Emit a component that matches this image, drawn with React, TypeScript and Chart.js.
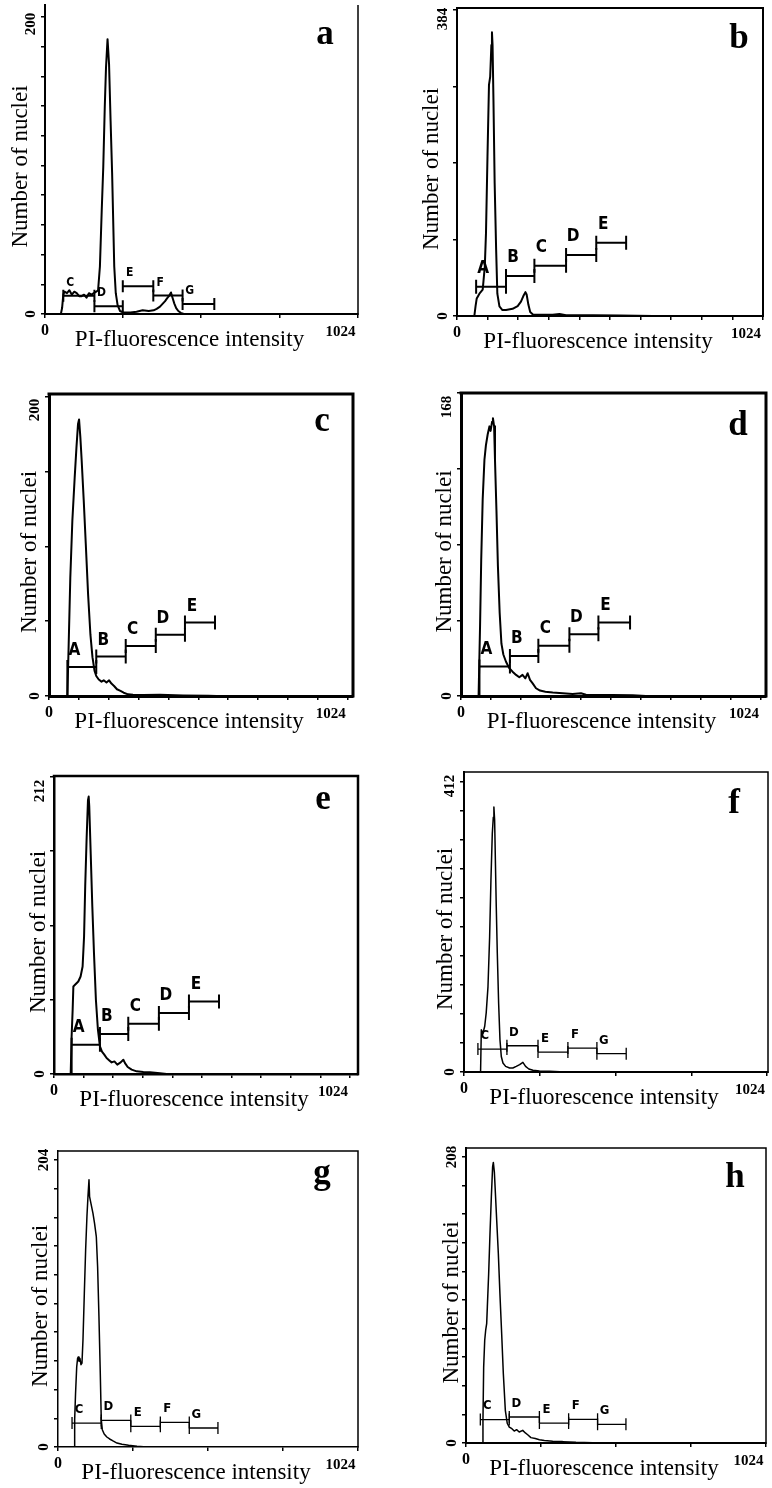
import React, { useEffect, useRef } from "react";
import { Chart, registerables } from "chart.js";
Chart.register(...registerables);

// ---------- texts & tick labels ----------
const X_TITLE = "PI-fluorescence intensity";
const Y_TITLE = "Number of nuclei";
const X_TICK_LABELS = ["0", "1024"];
const Y_MIN_LABEL = "0";
const X_FULL_SCALE = 1024;

const panelLetters = ["a", "b", "c", "d", "e", "f", "g", "h"];
const yTopValues = [200, 384, 200, 168, 212, 412, 204, 208];
const yTopLabels = ["200", "384", "200", "168", "212", "412", "204", "208"];
const yDivisions = [10, 4, 4, 4, 4, 10, 10, 10];
const xDivisions = [4, 10, 10, 10, 10, 4, 4, 4];

// ---------- histogram data (PI intensity channel, number of nuclei) ----------
const aIntensity = [52, 56, 60, 64, 72, 80, 88, 96, 104, 112, 120, 128, 136, 144, 152, 160, 168, 174, 180, 186, 191, 196, 200, 205, 210, 215, 220, 227, 232, 238, 246, 257, 280, 300, 320, 340, 356, 366, 377, 386, 393, 400, 406, 413, 418, 424, 430, 437, 445, 455];
const aCount = [0, 4, 13, 15, 14, 16, 13, 15, 14, 12, 12, 13, 11, 14, 13, 14, 15, 16, 32, 70, 99, 140, 166, 185, 168, 130, 95, 32, 14, 6, 2, 1, 1, 1.5, 2.5, 2, 2.5, 3.5, 5, 7, 8.5, 10.5, 12, 14.5, 11, 7, 4, 2, 0.8, 0];

const bIntensity = [58, 62, 66, 75, 86, 93, 97, 102, 107, 111, 115, 117, 119, 122, 126, 131, 135, 142, 152, 164, 186, 203, 214, 222, 229, 233, 239, 245, 254, 275, 320, 343, 365, 455, 544, 656];
const bCount = [0, 12, 22, 28, 33, 62, 104, 200, 290, 300, 340, 356, 340, 271, 167, 83, 28, 12, 7.5, 7.5, 9, 12.5, 18, 25, 30, 27, 14, 5, 2, 1.5, 1.5, 2.5, 1, 1, 0.5, 0];

const cIntensity = [63, 67.5, 73, 80, 88, 94, 99.5, 103, 107.5, 112, 119, 126, 134, 142, 149, 156, 162, 170.5, 180, 187.6, 197, 206, 214, 223, 233, 245, 256, 271, 288, 323, 380, 460, 546, 574];
const cCount = [0, 35, 79, 117, 146, 166, 182, 185, 173, 157.5, 131, 102, 68, 41, 26, 17, 13.4, 11, 9.6, 10.5, 9, 10.5, 8.3, 6.7, 4.5, 3.4, 2.2, 1.1, 0.9, 0.7, 0.9, 0.4, 0.2, 0];

const dIntensity = [60, 65, 69, 74, 80, 85, 91, 97, 101, 106, 109, 113, 116, 121, 126, 132, 138, 144.5, 153.6, 165, 176, 188, 199, 210, 219.6, 227.5, 235.5, 244.6, 256, 269.6, 288, 313, 347, 381, 409.6, 426.6, 517.6, 586, 631];
const dCount = [0, 38.5, 75.5, 109, 131, 139, 145, 149.5, 147, 152, 154, 149.5, 131, 103, 72, 46, 29, 23, 19, 15.4, 13.5, 11.7, 10.4, 11.7, 9.8, 12.6, 8.9, 7, 4.3, 3, 2.4, 1.9, 1.5, 1.1, 1.5, 0.7, 0.6, 0.4, 0];

const eIntensity = [57.7, 61, 64.6, 67, 72.7, 84, 92, 99, 104, 108, 113, 117.6, 120, 122, 127, 132.6, 138.4, 145, 152, 159, 166, 174, 182, 191.5, 199.5, 209, 219, 230.7, 240, 245.7, 255, 268.7, 286, 309, 332, 366.8, 390];
const eCount = [0, 27, 46, 62.5, 63.7, 66, 69.6, 76.7, 98, 134, 169, 195.5, 198, 191, 157.5, 119.5, 86, 53, 31.6, 19.7, 16, 13.8, 11.4, 9.7, 8.3, 9, 6.7, 8.3, 10.2, 7.8, 5, 3.1, 1.9, 1.4, 1.2, 0.5, 0];

const fIntensity = [56, 58.5, 64, 70, 75, 81, 86.6, 91, 95.6, 99, 101, 103.5, 106, 109, 112.5, 117, 121.5, 126, 131.6, 140.6, 154, 165, 176.6, 188, 199, 208, 219, 233, 255, 289, 323, 345];
const fCount = [0, 60, 55, 65, 84, 121, 192, 272.5, 338.7, 362, 376.5, 357.6, 301, 235, 168.6, 97.8, 45.8, 22, 12.8, 8, 5.7, 5.7, 8, 10.4, 13.7, 8, 4.3, 2.4, 1.4, 0.9, 0.5, 0];

const gIntensity = [55.8, 57, 60, 64, 67, 69.5, 71.8, 75, 78.6, 82, 85.4, 90, 94.5, 99, 102.5, 106, 108, 112.8, 119.6, 125, 131, 135.5, 140, 144.6, 148, 151.5, 158, 167, 176.5, 188, 201.6, 218.7, 241.5, 270, 304];
const gCount = [0, 19.4, 38, 57, 63, 64, 61, 63, 58.5, 59.6, 76, 109, 140, 164, 178, 190, 178, 173, 166, 159, 149.6, 128, 93, 52.5, 19.4, 12.3, 9.2, 7.1, 5.7, 4.3, 2.8, 1.9, 1.2, 0.5, 0];

const hIntensity = [57, 58, 60.4, 64, 67.3, 70.7, 73, 77.5, 82, 86.7, 91, 93.5, 97, 100, 105, 110.6, 116, 122, 127.7, 134.5, 141, 148, 157, 165, 173, 182, 194, 203, 211, 222, 237, 251, 268, 296.5, 330.7, 376, 433, 524.5];
const hCount = [0, 16.5, 55, 74.7, 82, 86.8, 99, 123, 152, 179, 200.7, 204, 197, 184, 162, 137.7, 108.6, 79.5, 50.4, 23.8, 14.5, 11.6, 10.4, 8.7, 9.7, 8, 9.2, 7.3, 6, 3.9, 3.2, 2.4, 1.9, 1.2, 1, 0.5, 0.2, 0];

// ---------- gates (marker regions) ----------
const gateNamesAE = ["A", "B", "C", "D", "E"];
const gateNamesCG = ["C", "D", "E", "F", "G"];

const aGateEdges = [60, 162, 255, 355, 451, 555];
const aGateLevels = [12.3, 5.2, 18.6, 12.5, 6.7];
const bGateEdges = [64, 164, 259, 365, 466, 566];
const bGateLevels = [36.8, 50.2, 63.2, 76.6, 92];
const cGateEdges = [63, 162, 263, 366, 466, 569];
const cGateLevels = [19.4, 26.4, 33.5, 40.9, 49.2];
const dGateEdges = [63, 167, 264, 370, 469, 577];
const dGateLevels = [16.3, 22.2, 27.9, 34.2, 40.7];
const eGateEdges = [61, 159, 257, 363, 467, 571];
const eGateLevels = [20.9, 28.5, 35.9, 43.5, 51.8];
const fGateEdges = [47, 145, 250, 351, 449, 548];
const fGateLevels = [32.6, 37.3, 28.3, 34, 26];
const gGateEdges = [48, 148, 249, 350, 449, 547];
const gGateLevels = [17, 18.9, 14.7, 17.5, 13.5];
const hGateEdges = [49, 148, 251, 351, 450, 547];
const hGateLevels = [17, 18.9, 14.5, 17.2, 13.6];

const intensities = [aIntensity, bIntensity, cIntensity, dIntensity, eIntensity, fIntensity, gIntensity, hIntensity];
const counts = [aCount, bCount, cCount, dCount, eCount, fCount, gCount, hCount];
const gateEdges = [aGateEdges, bGateEdges, cGateEdges, dGateEdges, eGateEdges, fGateEdges, gGateEdges, hGateEdges];
const gateLevels = [aGateLevels, bGateLevels, cGateLevels, dGateLevels, eGateLevels, fGateLevels, gGateLevels, hGateLevels];
const gateNames = [gateNamesCG, gateNamesAE, gateNamesAE, gateNamesAE, gateNamesAE, gateNamesCG, gateNamesCG, gateNamesCG];

// ---------- layout & style (page pixels) ----------
type Lay = {
  L: number; T: number; R: number; B: number; xMax: number; yMax: number;
  axisW: number; frameW: number; top: boolean; curveW: number; gateW: number;
  gateTick: number; gateFont: number; gateDy: number; gateToBase: boolean;
  letterDx: number; letterDy: number; yTitleDx: number; yTopDy: number;
};
const layouts: Lay[] = [
  { L: 45, T: 5, R: 358, B: 314, xMax: 1026, yMax: 208, axisW: 2, frameW: 1.5, top: false, curveW: 2, gateW: 2, gateTick: 6, gateFont: 12, gateDy: 13, gateToBase: false, letterDx: 33, letterDy: 39, yTitleDx: 24, yTopDy: 7 },
  { L: 457, T: 8, R: 763, B: 316, xMax: 1024, yMax: 386.5, axisW: 2, frameW: 2, top: true, curveW: 2, gateW: 2, gateTick: 7, gateFont: 17, gateDy: 18, gateToBase: false, letterDx: 24, letterDy: 40, yTitleDx: 25, yTopDy: 9 },
  { L: 49, T: 394, R: 353, B: 696, xMax: 1042, yMax: 202, axisW: 3, frameW: 3, top: true, curveW: 2, gateW: 2, gateTick: 7, gateFont: 17, gateDy: 16, gateToBase: true, letterDx: 31, letterDy: 37, yTitleDx: 19, yTopDy: 13 },
  { L: 461, T: 393, R: 766, B: 696, xMax: 1041, yMax: 168, axisW: 3, frameW: 3, top: true, curveW: 2, gateW: 2, gateTick: 7, gateFont: 17, gateDy: 17, gateToBase: true, letterDx: 28, letterDy: 42, yTitleDx: 16, yTopDy: 14 },
  { L: 54, T: 776, R: 358, B: 1074, xMax: 1052, yMax: 212.7, axisW: 2.5, frameW: 2.5, top: true, curveW: 2, gateW: 2, gateTick: 7, gateFont: 17, gateDy: 17, gateToBase: true, letterDx: 35, letterDy: 33, yTitleDx: 15, yTopDy: 14 },
  { L: 464, T: 772, R: 768, B: 1072, xMax: 1027, yMax: 426.2, axisW: 2, frameW: 1.5, top: true, curveW: 1.5, gateW: 1.3, gateTick: 6, gateFont: 13, gateDy: 13.5, gateToBase: false, letterDx: 34, letterDy: 41, yTitleDx: 18, yTopDy: 4 },
  { L: 58, T: 1151, R: 358, B: 1447, xMax: 1026, yMax: 210.4, axisW: 1.5, frameW: 1.5, top: true, curveW: 1.5, gateW: 1.3, gateTick: 6, gateFont: 13, gateDy: 13.5, gateToBase: false, letterDx: 36, letterDy: 32, yTitleDx: 17, yTopDy: 0 },
  { L: 466, T: 1148, R: 766, B: 1443, xMax: 1026, yMax: 214.5, axisW: 2, frameW: 1.5, top: true, curveW: 1.5, gateW: 1.3, gateTick: 6, gateFont: 13, gateDy: 13.5, gateToBase: false, letterDx: 31, letterDy: 39, yTitleDx: 14, yTopDy: 0 },
];

const SERIF = '"Liberation Serif", "Times New Roman", serif';
const COND = '"DejaVu Sans Condensed", "Liberation Sans Narrow", "DejaVu Sans", sans-serif';

function drawRotated(ctx: CanvasRenderingContext2D, text: string, x: number, y: number) {
  ctx.save();
  ctx.translate(x, y);
  ctx.rotate(-Math.PI / 2);
  ctx.textAlign = "center";
  ctx.textBaseline = "middle";
  ctx.fillText(text, 0, 0);
  ctx.restore();
}

const PAD_L = 50, PAD_T = 14, PAD_R = 16, PAD_B = 42, TICK = 4;

function Panel({ idx }: { idx: number }) {
  const ref = useRef<HTMLCanvasElement | null>(null);
  const lay = layouts[idx];
  const w = lay.R - lay.L + PAD_L + PAD_R;
  const h = lay.B - lay.T + PAD_T + PAD_B;

  useEffect(() => {
    if (!ref.current) return;
    const xs = intensities[idx];
    const ys = counts[idx];
    const edges = gateEdges[idx];
    const levels = gateLevels[idx];
    const names = gateNames[idx];

    const overlay = {
      id: "overlay",
      afterDraw(chart: any) {
        const ctx: CanvasRenderingContext2D = chart.ctx;
        const sx = chart.scales.x;
        const sy = chart.scales.y;
        const ca = chart.chartArea;
        ctx.save();
        ctx.strokeStyle = "#000";
        ctx.fillStyle = "#000";
        // frame (right + top)
        ctx.lineWidth = lay.frameW;
        ctx.beginPath();
        ctx.moveTo(ca.right, ca.bottom + lay.axisW / 2);
        ctx.lineTo(ca.right, ca.top);
        if (lay.top) ctx.lineTo(ca.left - lay.axisW / 2, ca.top);
        ctx.stroke();

        // gate markers
        ctx.lineWidth = lay.gateW;
        ctx.font = `bold ${lay.gateFont}px ${COND}`;
        ctx.textAlign = "center";
        ctx.textBaseline = "middle";
        for (let i = 0; i < levels.length; i++) {
          const x1 = sx.getPixelForValue(edges[i]);
          const x2 = sx.getPixelForValue(edges[i + 1]);
          const y = sy.getPixelForValue(levels[i]);
          ctx.beginPath();
          ctx.moveTo(x1, y);
          ctx.lineTo(x2, y);
          const leftBottom = i === 0 && lay.gateToBase ? sy.getPixelForValue(0) : y + lay.gateTick;
          ctx.moveTo(x1, y - lay.gateTick);
          ctx.lineTo(x1, leftBottom);
          ctx.moveTo(x2, y - lay.gateTick);
          ctx.lineTo(x2, y + lay.gateTick);
          ctx.stroke();
          ctx.fillText(names[i], x1 + 7, y - lay.gateDy);
        }

        // axis numbers
        ctx.font = `bold 15px ${SERIF}`;
        drawRotated(ctx, Y_MIN_LABEL, ca.left - 14, sy.getPixelForValue(0));
        drawRotated(ctx, yTopLabels[idx], ca.left - 14, sy.getPixelForValue(yTopValues[idx]) + lay.yTopDy);
        ctx.textAlign = "center";
        ctx.textBaseline = "middle";
        ctx.font = `bold 16px ${SERIF}`;
        ctx.fillText(X_TICK_LABELS[0], sx.getPixelForValue(0), ca.bottom + 17);
        ctx.font = `bold 15px ${SERIF}`;
        ctx.fillText(X_TICK_LABELS[1], sx.getPixelForValue(X_FULL_SCALE) - 17, ca.bottom + 18);

        // titles
        ctx.font = `23px ${SERIF}`;
        ctx.fillText(X_TITLE, (ca.left + ca.right) / 2 - 12, ca.bottom + 26);
        drawRotated(ctx, Y_TITLE, ca.left - lay.yTitleDx, (ca.top + ca.bottom) / 2 + 7);

        // panel letter
        ctx.font = `bold 35px ${SERIF}`;
        ctx.textBaseline = "alphabetic";
        ctx.fillText(panelLetters[idx], ca.right - lay.letterDx, ca.top + lay.letterDy);
        ctx.restore();
      },
    };

    const chart = new Chart(ref.current, {
      type: "line",
      data: {
        datasets: [
          {
            data: xs.map((x, i) => ({ x, y: ys[i] })),
            borderColor: "#000",
            borderWidth: lay.curveW,
            borderJoinStyle: "round",
            pointRadius: 0,
            tension: 0,
            fill: false,
          },
        ],
      },
      options: {
        animation: false,
        responsive: false,
        maintainAspectRatio: false,
        devicePixelRatio: 1,
        layout: { padding: { left: PAD_L - TICK, top: PAD_T, right: PAD_R, bottom: PAD_B - TICK } },
        plugins: { legend: { display: false }, tooltip: { enabled: false }, title: { display: false } },
        scales: {
          x: {
            type: "linear",
            min: 0,
            max: lay.xMax,
            ticks: { display: false },
            grid: { display: true, drawOnChartArea: false, drawTicks: true, tickLength: TICK, color: "#000", lineWidth: 1.5 },
            border: { display: true, color: "#000", width: lay.axisW },
            afterBuildTicks: (axis: any) => {
              const n = xDivisions[idx];
              axis.ticks = Array.from({ length: n + 1 }, (_, i) => ({ value: (X_FULL_SCALE * i) / n }));
            },
          },
          y: {
            type: "linear",
            min: 0,
            max: lay.yMax,
            ticks: { display: false },
            grid: { display: true, drawOnChartArea: false, drawTicks: true, tickLength: TICK, color: "#000", lineWidth: 1.5 },
            border: { display: true, color: "#000", width: lay.axisW },
            afterBuildTicks: (axis: any) => {
              const n = yDivisions[idx];
              axis.ticks = Array.from({ length: n + 1 }, (_, i) => ({ value: (yTopValues[idx] * i) / n }));
            },
          },
        },
      },
      plugins: [overlay],
    } as any);
    return () => chart.destroy();
  }, [idx]);

  return (
    <canvas
      ref={ref}
      width={w}
      height={h}
      style={{ position: "absolute", left: lay.L - PAD_L, top: lay.T - PAD_T, width: w, height: h }}
    />
  );
}

export default function App() {
  return (
    <div style={{ position: "absolute", left: 0, top: 0, width: 772, height: 1488, background: "#fff", overflow: "hidden" }}>
      {panelLetters.map((_, i) => (
        <Panel key={i} idx={i} />
      ))}
    </div>
  );
}
